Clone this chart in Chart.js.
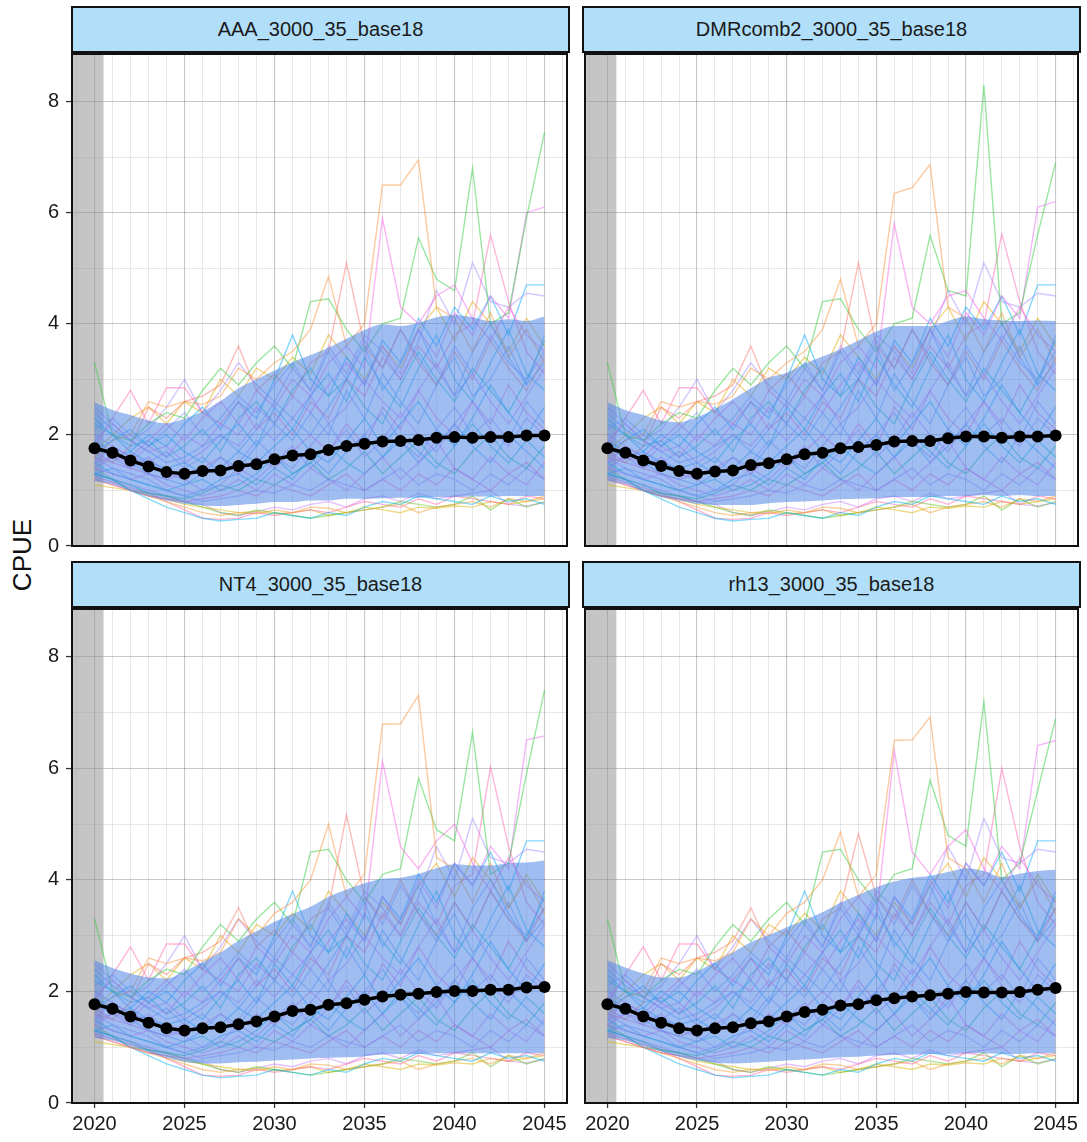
<!DOCTYPE html>
<html>
<head>
<meta charset="utf-8">
<script src="https://cdn.jsdelivr.net/npm/chart.js@4.4.1/dist/chart.umd.min.js"></script>
<style>
  body { margin: 0; background: #fff; width: 1087px; height: 1142px; position: relative; overflow: hidden;
         font-family: "Liberation Sans", Arial, Helvetica, sans-serif; }
  canvas { position: absolute; }
  .strip { position: absolute; box-sizing: border-box; height: 47px; background: #b1dffa;
           border: 2px solid #111; display: flex; align-items: center; justify-content: center;
           font-size: 20px; color: #1a1a1a; z-index: 2; }
  #ytitle { position: absolute; left: 22px; top: 555px; transform: translate(-50%, -50%) rotate(-90deg);
            font-size: 26px; color: #111; white-space: nowrap; }
</style>
</head>
<body>
<div id="ytitle">CPUE</div>
<script>
// ---- projection years and axis breaks ----
const years = [2020, 2021, 2022, 2023, 2024, 2025, 2026, 2027, 2028, 2029, 2030, 2031, 2032,
               2033, 2034, 2035, 2036, 2037, 2038, 2039, 2040, 2041, 2042, 2043, 2044, 2045];
const xGridYears = [2019, 2020, 2021, 2022, 2023, 2024, 2025, 2026, 2027, 2028, 2029, 2030, 2031, 2032,
                    2033, 2034, 2035, 2036, 2037, 2038, 2039, 2040, 2041, 2042, 2043, 2044, 2045, 2046];
const xLabelYears = [2020, 2025, 2030, 2035, 2040, 2045];
const yGridValues = [0, 1, 2, 3, 4, 5, 6, 7, 8];
const yLabelValues = [0, 2, 4, 6, 8];
const historicEnd = 2020.5;   // end of the shaded historical period

const panelTitles = ["AAA_3000_35_base18", "DMRcomb2_3000_35_base18", "NT4_3000_35_base18", "rh13_3000_35_base18"];

// ---- median CPUE and quantile envelope per management procedure ----
const medianAAA = [1.76,1.68,1.54,1.43,1.33,1.30,1.35,1.36,1.44,1.47,1.56,1.63,1.65,1.73,1.80,1.84,1.88,1.89,1.91,1.95,1.96,1.95,1.96,1.96,1.99,1.99];
const lowerAAA  = [1.17,1.11,0.99,0.90,0.82,0.76,0.73,0.72,0.74,0.76,0.79,0.79,0.82,0.82,0.85,0.85,0.86,0.87,0.87,0.88,0.88,0.89,0.89,0.90,0.90,0.90];
const upperAAA  = [2.59,2.45,2.36,2.26,2.21,2.29,2.42,2.61,2.84,3.00,3.16,3.31,3.44,3.57,3.73,3.89,3.99,3.96,4.02,4.12,4.16,4.12,4.05,4.08,4.05,4.13];

const medianDMR = [1.76,1.68,1.54,1.44,1.35,1.30,1.34,1.36,1.46,1.49,1.56,1.65,1.68,1.76,1.78,1.82,1.88,1.89,1.89,1.94,1.97,1.97,1.95,1.97,1.97,1.99];
const lowerDMR  = [1.17,1.11,0.98,0.88,0.82,0.76,0.74,0.74,0.74,0.77,0.79,0.80,0.82,0.84,0.85,0.86,0.88,0.88,0.88,0.90,0.90,0.92,0.90,0.92,0.90,0.90];
const upperDMR  = [2.59,2.45,2.36,2.26,2.23,2.32,2.46,2.64,2.84,3.03,3.12,3.28,3.41,3.54,3.70,3.86,3.96,3.96,3.96,4.05,4.13,4.08,4.06,4.05,4.06,4.05];

const medianNT4 = [1.77,1.69,1.55,1.44,1.34,1.30,1.34,1.36,1.41,1.46,1.55,1.65,1.67,1.76,1.79,1.85,1.91,1.94,1.96,1.99,2.01,2.01,2.03,2.03,2.07,2.08];
const lowerNT4  = [1.17,1.12,1.02,0.91,0.81,0.74,0.71,0.71,0.73,0.74,0.76,0.78,0.80,0.81,0.82,0.84,0.87,0.88,0.88,0.89,0.89,0.89,0.89,0.89,0.89,0.89];
const upperNT4  = [2.56,2.42,2.32,2.25,2.23,2.36,2.53,2.70,2.91,3.08,3.25,3.39,3.52,3.70,3.83,3.94,4.02,4.04,4.11,4.21,4.28,4.26,4.26,4.30,4.31,4.35];

const medianRH = [1.77,1.69,1.55,1.44,1.34,1.30,1.34,1.36,1.43,1.46,1.55,1.63,1.67,1.75,1.77,1.84,1.88,1.91,1.93,1.96,1.99,1.98,1.98,1.99,2.03,2.06];
const lowerRH  = [1.17,1.12,1.02,0.92,0.83,0.76,0.72,0.71,0.72,0.74,0.76,0.78,0.80,0.82,0.83,0.85,0.86,0.87,0.88,0.88,0.89,0.89,0.88,0.88,0.89,0.89];
const upperRH  = [2.56,2.43,2.32,2.25,2.25,2.36,2.53,2.70,2.88,3.01,3.15,3.28,3.42,3.59,3.73,3.87,3.97,4.04,4.07,4.14,4.21,4.16,4.05,4.11,4.16,4.18];

// ---- individual simulation trajectories common to all procedures ----
const sharedSims = [
  [1.9,1.7,1.5,1.3,1.2,1.1,1.3,1.6,1.4,1.8,2.2,1.9,2.4,2.0,2.8,2.3,3.1,2.6,2.2,2.9,3.4,2.7,3.0,3.6,2.9,3.3],
  [1.5,1.6,1.4,1.6,1.3,1.2,1.0,1.1,1.4,1.2,1.5,1.8,1.4,1.7,2.1,1.6,1.9,2.4,2.0,1.7,2.2,2.6,2.1,1.8,2.3,2.0],
  [2.2,2.0,1.8,1.9,1.6,1.8,2.1,1.7,2.3,2.6,2.2,2.8,3.2,2.7,3.0,2.5,2.2,2.9,3.5,3.0,2.6,3.2,2.8,2.4,3.0,3.7],
  [1.3,1.2,1.1,0.95,0.9,0.85,0.95,1.1,1.0,1.2,1.1,1.3,1.5,1.2,1.4,1.7,1.3,1.6,1.9,1.5,1.3,1.7,2.0,1.6,1.4,1.8],
  [1.7,1.9,2.1,1.8,2.0,1.7,1.5,1.9,2.2,1.8,2.5,2.1,2.7,3.1,2.6,3.4,2.9,2.5,3.2,3.8,3.0,2.6,3.3,3.9,3.1,2.8],
  [2.0,1.8,1.6,1.5,1.7,1.4,1.6,1.3,1.5,1.9,1.6,1.4,1.8,2.2,1.7,2.0,2.4,1.9,1.6,2.1,2.5,2.0,2.3,1.9,2.6,2.2],
  [1.4,1.3,1.2,1.3,1.1,1.0,0.9,1.0,1.2,1.0,1.3,1.1,1.4,1.2,1.0,1.3,1.6,1.2,1.5,1.9,1.4,1.2,1.6,1.3,1.1,1.5],
  [2.4,2.1,1.9,1.7,1.5,1.6,1.8,2.0,1.7,2.1,2.6,2.3,2.0,2.5,3.0,3.6,2.8,3.3,3.9,3.2,2.7,3.5,4.0,3.4,2.9,3.8],
  [1.6,1.4,1.3,1.2,1.0,0.9,0.8,0.85,0.9,1.0,0.95,1.1,1.0,1.2,1.1,1.0,1.2,1.4,1.1,1.3,1.2,1.0,1.3,1.1,1.4,1.2],
  [1.8,1.6,1.7,1.5,1.4,1.5,1.3,1.4,1.7,1.5,1.8,2.1,1.7,1.5,1.9,2.3,1.8,2.2,2.6,2.1,1.8,2.3,2.9,2.4,2.0,2.5],
  [1.2,1.1,1.0,0.9,0.85,0.8,0.85,0.9,1.0,0.9,1.1,1.0,0.9,1.1,1.3,1.0,1.2,1.0,1.3,1.1,1.4,1.2,1.0,1.3,1.5,1.2],
  [2.1,2.3,2.0,1.8,2.1,2.4,2.0,2.3,2.7,2.4,2.9,3.3,2.8,3.5,3.0,3.7,3.2,3.9,3.4,2.9,3.6,3.1,3.8,3.3,3.0,3.5],
  [1.5,1.3,1.2,1.1,1.0,1.1,1.2,1.0,1.1,1.3,1.6,1.3,1.5,1.8,1.5,1.3,1.6,2.0,1.7,1.4,1.8,2.2,1.8,1.5,1.9,1.6],
  [1.9,2.2,1.9,1.7,1.8,1.5,1.7,2.0,1.8,2.2,1.9,2.3,2.7,2.2,2.5,3.0,2.6,2.3,2.8,3.3,2.7,3.1,2.6,2.2,2.7,3.2],
  [1.3,1.4,1.2,1.1,1.0,0.9,1.0,1.2,1.3,1.1,1.4,1.2,1.6,1.3,1.7,2.0,1.6,1.9,1.5,1.8,2.2,1.8,1.5,2.0,1.7,1.4],
  [1.7,1.5,1.4,1.3,1.2,1.3,1.4,1.6,1.3,1.6,1.4,1.7,2.0,1.7,2.2,1.8,2.5,2.1,2.8,2.3,2.0,2.6,2.2,2.9,2.4,2.1],
  [1.3,1.2,1.0,0.85,0.7,0.6,0.5,0.45,0.48,0.5,0.6,0.55,0.5,0.6,0.55,0.7,0.8,0.75,0.9,0.85,0.8,0.75,0.9,0.8,0.85,0.75],
  [1.2,1.1,1.0,0.9,0.8,0.7,0.6,0.55,0.6,0.58,0.65,0.6,0.7,0.68,0.6,0.65,0.7,0.75,0.6,0.7,0.75,0.8,0.7,0.85,0.8,0.9],
  [1.4,1.2,1.0,0.95,0.9,0.8,0.7,0.6,0.55,0.65,0.6,0.55,0.5,0.55,0.6,0.65,0.7,0.8,0.75,0.7,0.75,0.9,0.65,0.85,0.7,0.8],
  [1.25,1.15,1.05,0.95,0.8,0.65,0.5,0.48,0.5,0.6,0.55,0.6,0.65,0.6,0.7,0.8,0.75,0.7,0.85,0.75,0.9,0.85,0.8,0.75,0.9,0.85],
  [1.1,1.05,1.0,0.9,0.85,0.75,0.7,0.65,0.6,0.62,0.58,0.6,0.65,0.55,0.6,0.7,0.65,0.6,0.7,0.68,0.72,0.7,0.8,0.75,0.8,0.85],
  [1.3,1.2,1.1,1.0,0.9,0.8,0.75,0.6,0.55,0.62,0.7,0.65,0.75,0.8,0.7,0.85,0.9,0.8,0.95,0.85,0.9,0.95,1.0,0.75,0.72,0.78],
  [2.5,2.2,1.9,2.1,2.5,3.0,2.4,2.8,3.3,2.9,2.6,3.2,2.8,3.6,3.1,3.8,3.5,3.0,3.7,4.6,4.0,5.1,4.4,4.3,4.55,4.5],
  [2.3,2.0,1.7,2.0,1.8,2.2,2.5,2.1,2.6,2.3,3.0,3.8,3.0,2.7,3.4,2.9,3.7,3.3,4.1,3.6,4.3,3.9,4.5,3.8,4.7,4.7],
  [1.7,2.0,2.3,2.5,2.2,2.6,2.4,3.0,2.7,3.2,3.0,3.4,3.1,3.8,3.4,3.0,3.6,3.2,3.9,4.3,3.7,4.4,4.0,3.5,4.1,3.6]
];
const sharedSimColors = ["#619CFF","#C77CFF","#00BFC4","#00C08B","#00B4F0","#9590FF","#E76BF3","#619CFF",
                         "#A58AFF","#00A9FF","#FF61C3","#8494FF","#00BCD8","#D575FE","#35A2FF","#FD61D1",
                         "#00B4F0","#F29A2E","#5CC21A","#FF67A4","#D8B400","#C77CFF","#A58AFF","#00A9FF","#E0A800"];

// ---- high-CPUE trajectories, which differ between procedures ----
const highSimColors = ["#F8913A", "#F564E3", "#2FCB3A", "#FF64B0", "#F8766D", "#E76BF3"];
const highSimsAAA = [
  [1.6,1.9,2.0,2.6,2.5,2.6,2.55,2.7,3.2,3.0,3.3,3.5,3.9,4.85,3.6,4.0,6.5,6.5,6.95,4.3,4.1,3.5,4.2,3.4,3.9,3.3],
  [1.5,1.8,1.6,1.9,2.2,1.9,2.3,2.6,2.2,2.8,2.5,3.0,2.7,3.3,3.6,3.2,5.9,4.3,4.0,4.5,4.7,4.1,3.7,4.3,3.8,3.5],
  [3.3,2.0,1.9,2.2,2.4,2.3,2.8,3.2,2.9,3.3,3.6,3.2,4.4,4.45,3.9,3.5,4.0,4.1,5.55,4.8,4.6,6.8,4.0,4.2,5.9,7.45],
  [1.8,2.3,2.8,2.2,2.85,2.85,2.4,2.2,2.6,2.1,2.4,2.0,2.6,2.3,3.0,2.7,3.4,3.0,3.6,3.2,3.8,4.0,5.6,4.4,3.5,3.1],
  [1.6,1.5,1.8,2.5,2.3,2.6,2.7,2.9,3.6,2.8,3.1,2.7,3.3,3.5,5.1,3.6,3.2,3.9,3.3,2.9,3.5,3.0,3.7,3.2,2.8,3.4],
  [1.4,1.6,1.5,1.8,1.6,2.0,1.8,2.2,2.0,2.5,2.2,2.7,2.4,2.9,3.3,2.9,3.6,3.1,3.9,3.4,4.2,3.8,4.5,4.1,6.0,6.1]
];
const highSimsDMR = [
  [1.6,1.9,2.0,2.6,2.5,2.6,2.55,2.7,3.2,3.0,3.3,3.5,3.9,4.8,3.6,4.0,6.35,6.45,6.87,4.3,4.1,3.5,4.2,3.4,3.9,3.3],
  [1.5,1.8,1.6,1.9,2.2,1.9,2.3,2.6,2.2,2.8,2.5,3.0,2.7,3.3,3.6,3.2,5.8,4.3,4.0,4.5,4.6,4.1,3.7,4.3,3.8,3.5],
  [3.3,2.0,1.9,2.2,2.4,2.3,2.8,3.2,2.9,3.3,3.6,3.2,4.4,4.45,3.9,3.5,4.0,4.1,5.59,4.6,4.5,8.3,4.0,4.2,5.6,6.9],
  [1.8,2.3,2.8,2.2,2.85,2.85,2.4,2.2,2.6,2.1,2.4,2.0,2.6,2.3,3.0,2.7,3.4,3.0,3.6,3.2,3.8,4.0,5.62,4.4,3.5,3.1],
  [1.6,1.5,1.8,2.5,2.3,2.6,2.7,2.9,3.6,2.8,3.1,2.7,3.3,3.5,5.1,3.6,3.2,3.9,3.3,2.9,3.5,3.0,3.7,3.2,2.8,3.4],
  [1.4,1.6,1.5,1.8,1.6,2.0,1.8,2.2,2.0,2.5,2.2,2.7,2.4,2.9,3.3,2.9,3.6,3.1,3.9,3.4,4.2,3.8,4.5,4.1,6.1,6.2]
];
const highSimsNT4 = [
  [1.6,1.9,2.0,2.6,2.5,2.6,2.55,2.7,3.3,3.0,3.4,3.6,4.0,5.0,3.7,4.1,6.79,6.8,7.31,4.4,4.2,3.6,4.3,3.5,4.0,3.4],
  [1.5,1.8,1.6,1.9,2.2,1.9,2.3,2.6,2.2,2.8,2.5,3.0,2.7,3.3,3.7,3.3,6.13,4.59,4.2,4.7,5.0,4.3,3.8,4.4,3.9,3.6],
  [3.3,2.0,1.9,2.2,2.4,2.3,2.8,3.2,2.9,3.3,3.6,3.2,4.5,4.55,4.0,3.6,4.1,4.2,5.82,4.9,4.7,6.65,4.1,4.3,5.9,7.4],
  [1.8,2.3,2.8,2.2,2.85,2.85,2.4,2.2,2.6,2.1,2.4,2.0,2.6,2.3,3.0,2.7,3.4,3.0,3.6,3.2,3.9,4.1,6.03,4.6,3.6,3.2],
  [1.6,1.5,1.8,2.5,2.3,2.6,2.7,2.9,3.5,2.8,3.1,2.7,3.3,3.5,5.17,3.7,3.3,4.0,3.4,3.0,3.6,3.1,3.8,3.3,2.9,3.5],
  [1.4,1.6,1.5,1.8,1.6,2.0,1.8,2.2,2.0,2.5,2.2,2.7,2.4,2.9,3.3,2.9,3.7,3.2,4.0,3.5,4.3,3.9,4.6,4.2,6.51,6.58]
];
const highSimsRH = [
  [1.6,1.9,2.0,2.6,2.5,2.6,2.55,2.7,3.3,3.0,3.4,3.6,4.0,4.86,3.7,4.1,6.5,6.51,6.92,4.4,4.2,3.6,4.3,3.5,4.0,3.4],
  [1.5,1.8,1.6,1.9,2.2,1.9,2.3,2.6,2.2,2.8,2.5,3.0,2.7,3.3,3.7,3.3,6.32,4.5,4.1,4.6,4.9,4.2,3.8,4.4,3.9,3.6],
  [3.3,2.0,1.9,2.2,2.4,2.3,2.8,3.2,2.9,3.3,3.6,3.2,4.5,4.55,4.0,3.6,4.1,4.2,5.79,4.8,4.6,7.2,4.0,4.3,5.6,6.89],
  [1.8,2.3,2.8,2.2,2.85,2.85,2.4,2.2,2.6,2.1,2.4,2.0,2.6,2.3,3.0,2.7,3.4,3.0,3.6,3.2,3.9,4.1,6.0,4.6,3.6,3.2],
  [1.6,1.5,1.8,2.5,2.3,2.6,2.7,2.9,3.5,2.8,3.1,2.7,3.3,3.5,4.83,3.7,3.3,4.0,3.4,3.0,3.6,3.1,3.8,3.3,2.9,3.5],
  [1.4,1.6,1.5,1.8,1.6,2.0,1.8,2.2,2.0,2.5,2.2,2.7,2.4,2.9,3.3,2.9,3.7,3.2,4.0,3.5,4.3,3.9,4.6,4.2,6.41,6.5]
];

const panels = [
  { title: panelTitles[0], median: medianAAA, lower: lowerAAA, upper: upperAAA, high: highSimsAAA },
  { title: panelTitles[1], median: medianDMR, lower: lowerDMR, upper: upperDMR, high: highSimsDMR },
  { title: panelTitles[2], median: medianNT4, lower: lowerNT4, upper: upperNT4, high: highSimsNT4 },
  { title: panelTitles[3], median: medianRH,  lower: lowerRH,  upper: upperRH,  high: highSimsRH }
];

// ---- layout ----
const PLOT_W = 497, PLOT_H = 496, PAD = 4;
const colLeft = [72, 583];
const rowTop = [52, 607];
const stripTop = [6, 561];
const FONT = '"Liberation Sans", Arial, Helvetica, sans-serif';
const GRID_MAJOR = 'rgba(0,0,0,0.22)';
const GRID_MINOR = 'rgba(0,0,0,0.10)';
const LINE_ALPHA = 0.48;

function withAlpha(hex, a) {
  const n = parseInt(hex.slice(1), 16);
  return `rgba(${(n >> 16) & 255},${(n >> 8) & 255},${n & 255},${a})`;
}
function toPoints(values) {
  return values.map((v, i) => ({ x: years[i], y: v }));
}
// fixed axis box sizes, no extra room reserved for end labels
function fixBox(size, horizontal) {
  return s => {
    if (horizontal) s.height = size; else s.width = size;
    s.paddingTop = 0; s.paddingBottom = 0; s.paddingLeft = 0; s.paddingRight = 0;
  };
}

// shaded historical period behind the projections
const historicBand = {
  id: 'historicBand',
  beforeDatasetsDraw(chart) {
    const { ctx, chartArea: a, scales: { x } } = chart;
    const xe = x.getPixelForValue(historicEnd);
    ctx.save();
    ctx.fillStyle = 'rgba(150,150,150,0.55)';
    ctx.fillRect(a.left, a.top, xe - a.left, a.bottom - a.top);
    ctx.restore();
  }
};
// black frame round each panel
const panelFrame = {
  id: 'panelFrame',
  afterDraw(chart) {
    const { ctx, chartArea: a } = chart;
    ctx.save();
    ctx.strokeStyle = '#111';
    ctx.lineWidth = 2;
    ctx.strokeRect(a.left, a.top, a.right - a.left, a.bottom - a.top);
    ctx.restore();
  }
};

panels.forEach((p, k) => {
  const col = k % 2, row = Math.floor(k / 2);
  const yW = col === 0 ? 72 : 0;
  const xH = row === 1 ? 40 : 0;

  const strip = document.createElement('div');
  strip.className = 'strip';
  strip.textContent = p.title;
  strip.style.left = (colLeft[col] - 1) + 'px';
  strip.style.top = stripTop[row] + 'px';
  strip.style.width = (PLOT_W + 2) + 'px';
  document.body.appendChild(strip);

  const w = yW + PLOT_W + 2 * PAD, h = PLOT_H + xH + 2 * PAD;
  const canvas = document.createElement('canvas');
  canvas.width = w; canvas.height = h;
  canvas.style.width = w + 'px'; canvas.style.height = h + 'px';
  canvas.style.left = (colLeft[col] - yW - PAD) + 'px';
  canvas.style.top = (rowTop[row] - PAD) + 'px';
  document.body.appendChild(canvas);

  const datasets = [];
  datasets.push({
    data: toPoints(p.median), borderColor: '#000', borderWidth: 3.5,
    pointRadius: 6, pointBackgroundColor: '#000', pointBorderWidth: 0,
    fill: false, order: 0
  });
  datasets.push({
    data: toPoints(p.upper), borderWidth: 0, pointRadius: 0, borderColor: 'rgba(0,0,0,0)',
    backgroundColor: 'rgba(80,134,228,0.55)', fill: '+1', cubicInterpolationMode: 'monotone', order: 1
  });
  datasets.push({
    data: toPoints(p.lower), borderWidth: 0, pointRadius: 0, borderColor: 'rgba(0,0,0,0)',
    fill: false, cubicInterpolationMode: 'monotone', order: 1
  });
  p.high.forEach((vals, i) => datasets.push({
    data: toPoints(vals), borderColor: withAlpha(highSimColors[i], LINE_ALPHA), borderWidth: 1.4,
    pointRadius: 0, fill: false, order: 2
  }));
  sharedSims.forEach((vals, i) => datasets.push({
    data: toPoints(vals), borderColor: withAlpha(sharedSimColors[i], LINE_ALPHA), borderWidth: 1.4,
    pointRadius: 0, fill: false, order: 2
  }));

  new Chart(canvas, {
    type: 'line',
    data: { datasets },
    options: {
      responsive: false, animation: false, devicePixelRatio: 1,
      layout: { padding: PAD },
      plugins: { legend: { display: false }, tooltip: { enabled: false } },
      scales: {
        x: {
          type: 'linear', min: 2018.75, max: 2046.25,
          afterBuildTicks: s => { s.ticks = xGridYears.map(v => ({ value: v })); },
          afterFit: fixBox(xH, true),
          border: { display: false },
          grid: {
            color: c => (c.tick && xLabelYears.includes(c.tick.value)) ? GRID_MAJOR : GRID_MINOR,
            lineWidth: c => (c.tick && xLabelYears.includes(c.tick.value)) ? 1.1 : 0.9,
            drawTicks: row === 1, tickLength: 5, tickWidth: 1.3,
            tickColor: c => (c.tick && xLabelYears.includes(c.tick.value)) ? '#333' : 'rgba(0,0,0,0)'
          },
          ticks: {
            display: row === 1, autoSkip: false, maxRotation: 0, minRotation: 0, padding: 4,
            color: '#1a1a1a', font: { family: FONT, size: 20 },
            callback: v => xLabelYears.includes(v) ? String(v) : ''
          }
        },
        y: {
          type: 'linear', min: 0, max: 8.857,
          afterBuildTicks: s => { s.ticks = yGridValues.map(v => ({ value: v })); },
          afterFit: fixBox(yW, false),
          border: { display: false },
          grid: {
            color: c => (c.tick && yLabelValues.includes(c.tick.value)) ? GRID_MAJOR : GRID_MINOR,
            lineWidth: c => (c.tick && yLabelValues.includes(c.tick.value)) ? 1.1 : 0.9,
            drawTicks: col === 0, tickLength: 6, tickWidth: 1.3,
            tickColor: c => (c.tick && yLabelValues.includes(c.tick.value)) ? '#333' : 'rgba(0,0,0,0)'
          },
          ticks: {
            display: col === 0, autoSkip: false, padding: 7,
            color: '#1a1a1a', font: { family: FONT, size: 20 },
            callback: v => yLabelValues.includes(v) ? String(v) : ''
          }
        }
      }
    },
    plugins: [historicBand, panelFrame]
  });
});
</script>
</body>
</html>
